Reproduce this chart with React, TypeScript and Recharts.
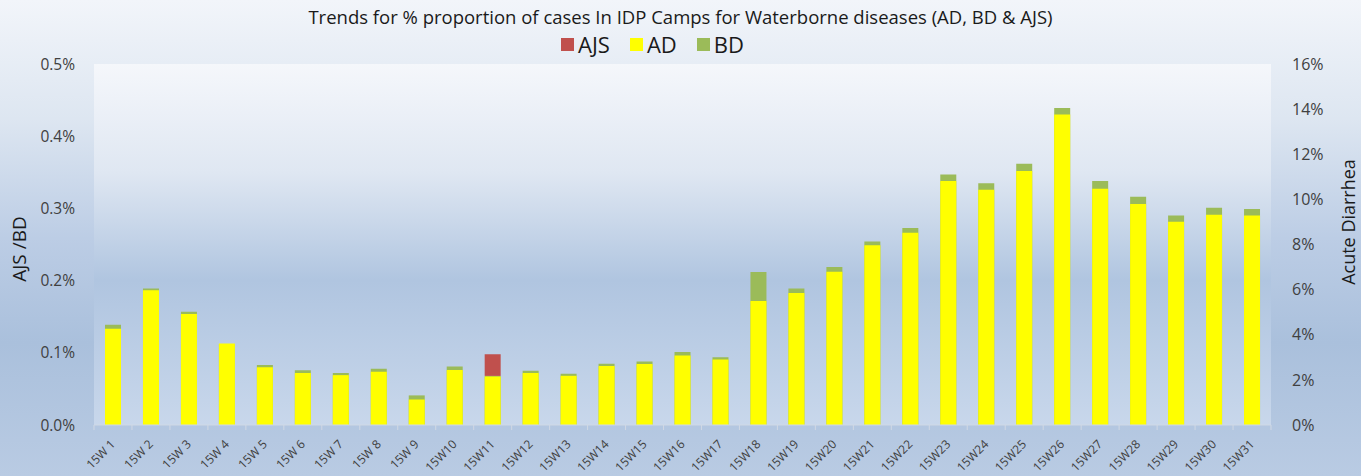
import React from 'react';
import { BarChart, Bar, XAxis, YAxis, CartesianGrid } from 'recharts';

const weeks = ['15W 1','15W 2','15W 3','15W 4','15W 5','15W 6','15W 7','15W 8','15W 9','15W10','15W11','15W12','15W13','15W14','15W15','15W16','15W17','15W18','15W19','15W20','15W21','15W22','15W23','15W24','15W25','15W26','15W27','15W28','15W29','15W30','15W31'];
const adValues = [4.27,5.97,4.92,3.61,2.56,2.31,2.21,2.36,1.13,2.44,2.15,2.31,2.18,2.62,2.70,3.08,2.90,5.50,5.85,6.79,7.97,8.52,10.81,10.43,11.26,13.76,10.47,9.79,9.01,9.32,9.29];
const bdValues = [0.139,0.189,0.157,0.112,0.083,0.076,0.072,0.078,0.041,0.081,0.068,0.075,0.071,0.085,0.088,0.101,0.094,0.212,0.189,0.219,0.254,0.273,0.347,0.335,0.362,0.439,0.338,0.316,0.290,0.301,0.299];
const ajsValues = [0,0,0,0,0,0,0,0,0,0,0.030,0,0,0,0,0,0,0,0,0,0,0,0,0,0,0,0,0,0,0,0];
const leftTicks = [0, 0.1, 0.2, 0.3, 0.4, 0.5];
const rightTicks = [0, 2, 4, 6, 8, 10, 12, 14, 16];

const data = weeks.map((w, i) => ({ week: w, AD: adValues[i], BD: bdValues[i], AJS: ajsValues[i] }));

const FONT = '"Open Sans", "Noto Sans", sans-serif';
const COLORS = { AJS: '#c0504d', AD: '#ffff00', BD: '#9bbb59' };
const legendItems = [
  { name: 'AJS', color: COLORS.AJS },
  { name: 'AD', color: COLORS.AD },
  { name: 'BD', color: COLORS.BD },
];

const BAND = 1177 / 31;

const XTick = (props: any) => {
  const { x, y, payload, index } = props;
  const tx = x + 3;
  const ty = y + 12;
  return (
    <g>
      <line x1={x - BAND / 2} x2={x - BAND / 2} y1={y - 8} y2={y - 3} stroke="#d0d8e4" />
      {index === weeks.length - 1 && (
        <line x1={x + BAND / 2} x2={x + BAND / 2} y1={y - 8} y2={y - 3} stroke="#d0d8e4" />
      )}
      <text
        x={tx}
        y={ty}
        transform={`rotate(-45, ${tx}, ${ty})`}
        textAnchor="end"
        fontSize={12}
        fill="#404040"
        fontFamily={FONT}
      >
        {payload.value}
      </text>
    </g>
  );
};

export default function App() {
  return (
    <div
      style={{
        position: 'absolute',
        left: 0,
        top: 0,
        width: 1361,
        height: 476,
        background: 'linear-gradient(to bottom, #f2f5fa 0%, #dde6f1 25%, #bccde5 50%, #aac0dc 72%, #b9cbe3 100%)',
        fontFamily: FONT,
      }}
    >
      <div
        style={{
          position: 'absolute',
          top: 6,
          left: 0,
          width: 1361,
          textAlign: 'center',
          fontSize: 18.5,
          color: '#1a1a1a',
          lineHeight: '22px',
        }}
      >
        Trends for % proportion of cases In IDP Camps for Waterborne diseases (AD, BD &amp; AJS)
      </div>
      <div
        style={{
          position: 'absolute',
          top: 34,
          left: 561,
          display: 'flex',
          alignItems: 'center',
          fontSize: 22,
          color: '#1a1a1a',
          lineHeight: '21px',
          height: 21,
        }}
      >
        {legendItems.map((it, i) => (
          <div key={it.name} style={{ display: 'flex', alignItems: 'center', marginRight: i < 2 ? 20 : 0 }}>
            <span style={{ display: 'inline-block', width: 13, height: 13, background: it.color, marginRight: 4 }} />
            <span>{it.name}</span>
          </div>
        ))}
      </div>
      <BarChart
        width={1361}
        height={476}
        data={data}
        margin={{ top: 64, right: 0, left: 0, bottom: 0 }}
        style={{ position: 'absolute', left: 0, top: 0 }}
      >
        <defs>
          <linearGradient id="plotBg" x1="0" y1="0" x2="0" y2="1">
            <stop offset="0%" stopColor="#f5f7fb" />
            <stop offset="30%" stopColor="#dfe7f2" />
            <stop offset="60%" stopColor="#b0c5e0" />
            <stop offset="100%" stopColor="#c8d7eb" />
          </linearGradient>
        </defs>
        <CartesianGrid horizontal={false} vertical={false} fill="url(#plotBg)" stroke="none" />
        <XAxis
          xAxisId="a"
          dataKey="week"
          height={51}
          interval={0}
          tick={<XTick />}
          tickLine={false}
          axisLine={{ stroke: '#d0d8e4' }}
        />
        <XAxis xAxisId="b" dataKey="week" hide height={0} />
        <YAxis
          yAxisId="left"
          orientation="left"
          width={94}
          domain={[0, 0.5]}
          ticks={leftTicks}
          tickFormatter={(v: number) => v.toFixed(1) + '%'}
          tickSize={0}
          tickMargin={19}
          axisLine={false}
          tickLine={false}
          tick={{ fontSize: 15.5, fill: '#404040', fontFamily: FONT }}
          label={{
            content: () => (
              <text x={26} y={249} transform="rotate(-90, 26, 249)" textAnchor="middle" fontSize={19} fill="#1a1a1a" fontFamily={FONT}>
                AJS /BD
              </text>
            ),
          }}
        />
        <YAxis
          yAxisId="right"
          orientation="right"
          width={90}
          domain={[0, 16]}
          ticks={rightTicks}
          tickFormatter={(v: number) => v + '%'}
          tickSize={0}
          tickMargin={21}
          axisLine={false}
          tickLine={false}
          tick={{ fontSize: 16, fill: '#404040', fontFamily: FONT }}
          label={{
            content: () => (
              <text x={1355} y={222} transform="rotate(-90, 1355, 222)" textAnchor="middle" fontSize={18} fill="#1a1a1a" fontFamily={FONT}>
                Acute Diarrhea
              </text>
            ),
          }}
        />
        <Bar xAxisId="a" yAxisId="left" dataKey="BD" stackId="s" fill={COLORS.BD} barSize={16} isAnimationActive={false} />
        <Bar xAxisId="a" yAxisId="left" dataKey="AJS" stackId="s" fill={COLORS.AJS} barSize={16} isAnimationActive={false} />
        <Bar xAxisId="b" yAxisId="right" dataKey="AD" fill={COLORS.AD} barSize={16} isAnimationActive={false} />
      </BarChart>
    </div>
  );
}
